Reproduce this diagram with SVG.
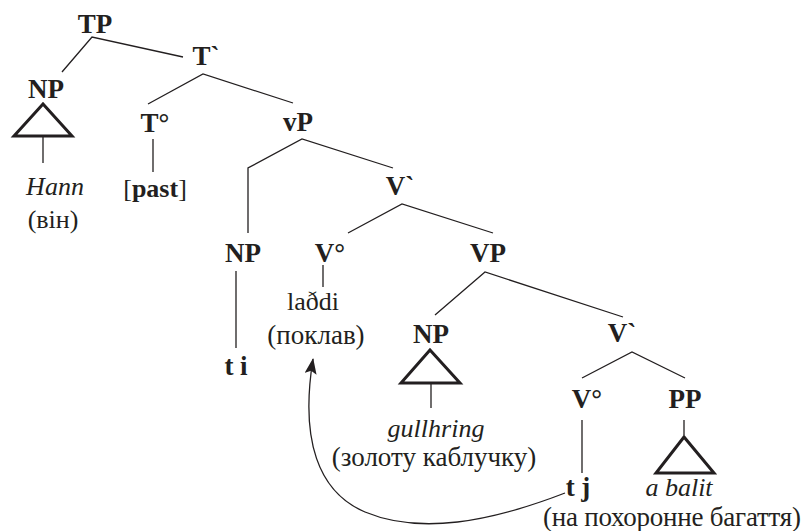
<svg xmlns="http://www.w3.org/2000/svg" width="803" height="531" viewBox="0 0 803 531">
  <style>
    .lbl { font-family: "Liberation Serif", "Times New Roman", serif; font-size: 27px; font-weight: bold; fill: #231f20; text-anchor: middle; }
    .word { font-family: "Liberation Serif", "Times New Roman", serif; font-size: 26px; fill: #231f20; text-anchor: middle; }
    .cyr { font-size: 27px; }
    .it { font-style: italic; }
    .b { font-weight: bold; }
    .edge { stroke: #231f20; stroke-width: 1.3; fill: none; }
    .tri { stroke: #231f20; stroke-width: 3; fill: none; stroke-linejoin: miter; }
  </style>
  <defs>
    <marker id="arrowhead" viewBox="0 0 16 12" refX="15" refY="6" markerWidth="16" markerHeight="12" markerUnits="userSpaceOnUse" orient="auto">
      <path d="M0,0 L16,6 L0,12 L3,6 z" fill="#231f20"/>
    </marker>
  </defs>

  <!-- tree branches -->
  <g id="connectors">
    <path class="edge" d="M62,72 L92,37 L183,57"/>
    <path class="edge" d="M148,104 L203,74 L293,103"/>
    <line class="edge" x1="43" y1="136" x2="43" y2="163"/>
    <line class="edge" x1="153" y1="139" x2="153" y2="172"/>
    <path class="edge" d="M248,233 L248,168 L302,139 L393,168"/>
    <path class="edge" d="M348,233 L402,204 L493,233"/>
    <line class="edge" x1="323" y1="265" x2="323" y2="287"/>
    <line class="edge" x1="236" y1="271" x2="236" y2="348"/>
    <path class="edge" d="M435,315 L485,272 L623,317"/>
    <line class="edge" x1="431" y1="383" x2="431" y2="408"/>
    <path class="edge" d="M582,378 L632,352 L685,378"/>
    <line class="edge" x1="582" y1="420" x2="582" y2="473"/>
    <line class="edge" x1="684" y1="420" x2="684" y2="435"/>
    <!-- movement of the verb from t j up to V° -->
    <path class="edge" d="M565,493 C490,522 420,535 365,512 C318,492 300,440 313,359" marker-end="url(#arrowhead)"/>
  </g>

  <g id="TP"><text class="lbl" x="95" y="33">TP</text></g>
  <g id="T-bar"><text class="lbl" x="206" y="65">T`</text></g>
  <g id="NP-subj">
    <text class="lbl" x="46" y="98">NP</text>
    <polygon class="tri" points="43,104 14,136 72,136"/>
  </g>
  <g id="Hann">
    <text class="word it" x="55" y="195">Hann</text>
    <text class="word" x="53" y="228">(він)</text>
  </g>
  <g id="T-head"><text class="lbl" x="155" y="132">T°</text></g>
  <g id="past"><text class="word" x="155" y="197">[<tspan class="b">past</tspan>]</text></g>
  <g id="vP"><text class="lbl" x="298" y="131">vP</text></g>
  <g id="V-bar-upper"><text class="lbl" x="400" y="195">V`</text></g>
  <g id="NP-spec"><text class="lbl" x="243" y="262">NP</text></g>
  <g id="v-head"><text class="lbl" x="330" y="262">V°</text></g>
  <g id="VP"><text class="lbl" x="488" y="262">VP</text></g>
  <g id="ladhi">
    <text class="word" x="313" y="310">laðdi</text>
    <text class="word cyr" x="316" y="344">(поклав)</text>
  </g>
  <g id="trace-i"><text class="lbl" x="236" y="375">t i</text></g>
  <g id="NP-obj">
    <text class="lbl" x="431" y="343">NP</text>
    <polygon class="tri" points="430,350 401,383 460,383"/>
  </g>
  <g id="gullhring">
    <text class="word it" x="436" y="437">gullhring</text>
    <text class="word cyr" x="434" y="466">(золоту каблучку)</text>
  </g>
  <g id="V-bar-lower"><text class="lbl" x="622" y="342">V`</text></g>
  <g id="V-head"><text class="lbl" x="587" y="408">V°</text></g>
  <g id="PP">
    <text class="lbl" x="685" y="408">PP</text>
    <polygon class="tri" points="684,437 656,473 714,473"/>
  </g>
  <g id="trace-j"><text class="lbl" x="578" y="496">t j</text></g>
  <g id="a-balit">
    <text class="word it" x="679" y="496">a balit</text>
    <text class="word cyr" x="672" y="526" textLength="258" lengthAdjust="spacing">(на похоронне багаття)</text>
  </g>
</svg>
